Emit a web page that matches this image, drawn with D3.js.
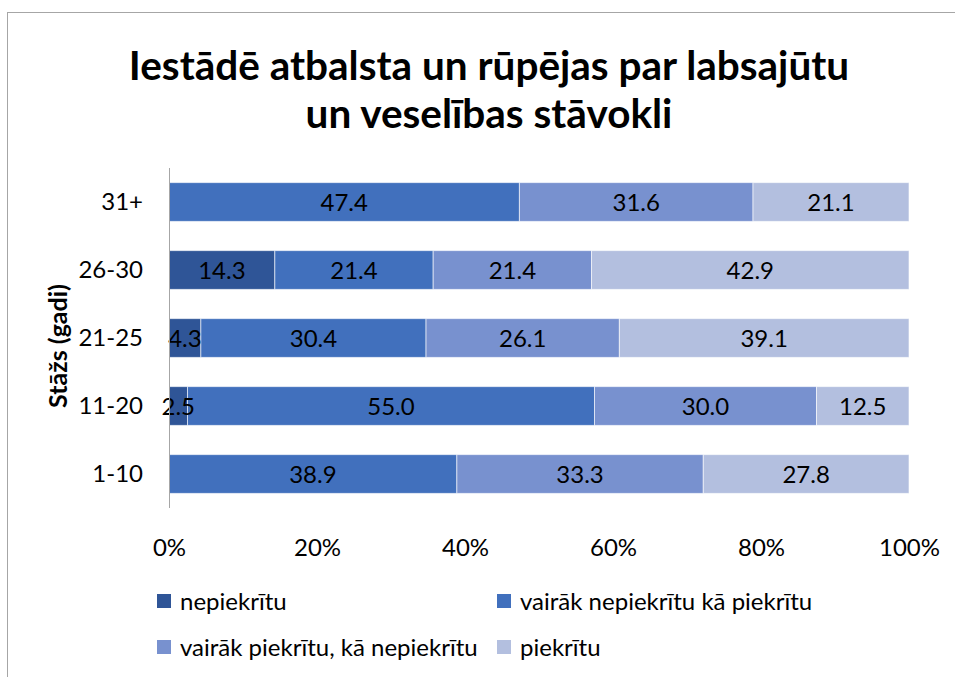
<!DOCTYPE html>
<html>
<head>
<meta charset="utf-8">
<script src="https://cdn.jsdelivr.net/npm/d3@7"></script>
<style>
  body { margin: 0; background: #fff; }
  svg { display: block; font-family: Lato, "Open Sans", sans-serif; }
</style>
</head>
<body>
<svg width="955" height="677"></svg>
<script>
var groups = ['31+', '26-30', '21-25', '11-20', '1-10'];
var seriesNames = ['nepiekrītu', 'vairāk nepiekrītu kā piekrītu', 'vairāk piekrītu, kā nepiekrītu', 'piekrītu'];
var nepiekritu = [0, 14.3, 4.3, 2.5, 0];
var vairakNepiekritu = [47.4, 21.4, 30.4, 55.0, 38.9];
var vairakPiekritu = [31.6, 21.4, 26.1, 30.0, 33.3];
var piekritu = [21.1, 42.9, 39.1, 12.5, 27.8];
var ticks = [0, 0.2, 0.4, 0.6, 0.8, 1];
var colors = ['#2f5597', '#4170bd', '#7891cf', '#b3bfdf'];

var svg = d3.select('svg');
var margin = { top: 168, right: 46, bottom: 169, left: 169 };
var width = +svg.attr('width') - margin.left - margin.right;
var height = +svg.attr('height') - margin.top - margin.bottom;
var fs = 24;

// frame (only left and top edge visible)
svg.append('rect')
	.attr('x', 7.5).attr('y', 12.5)
	.attr('width', 1000).attr('height', 1000)
	.attr('fill', 'none').attr('stroke', '#a6a6a6');

var title = svg.append('text')
	.attr('text-anchor', 'middle')
	.attr('font-weight', 'bold')
	.attr('font-size', 40.5)
	.attr('fill', '#000');
title.append('tspan').attr('x', 489).attr('y', 80).text('Iestādē atbalsta un rūpējas par labsajūtu');
title.append('tspan').attr('x', 489).attr('y', 128).text('un veselības stāvokli');

var rows = groups.map(function (g, i) {
	return { group: g, s0: nepiekritu[i], s1: vairakNepiekritu[i], s2: vairakPiekritu[i], s3: piekritu[i] };
});

var stack = d3.stack()
	.keys(['s0', 's1', 's2', 's3'])
	.offset(d3.stackOffsetExpand);
var layers = stack(rows);

var g = svg.append('g').attr('transform', `translate(${margin.left}, ${margin.top})`);

var x = d3.scaleLinear().domain([0, 1]).range([0, width]);
var y = d3.scaleBand().domain(groups).range([0, height]).paddingInner(0.43).paddingOuter(0.215);

g.selectAll('.layer')
	.data(layers)
	.enter().append('g')
	.attr('fill', function (d, i) { return colors[i]; })
	.selectAll('rect')
	.data(function (d) { return d; })
	.enter().append('rect')
	.attr('x', function (d) { return x(d[0]); })
	.attr('y', function (d) { return y(d.data.group); })
	.attr('width', function (d) { return x(d[1]) - x(d[0]); })
	.attr('height', y.bandwidth())
	.attr('stroke', 'rgba(255,255,255,0.6)')
	.attr('stroke-width', 1);

// labels go on top of all bars
g.selectAll('.labels')
	.data(layers)
	.enter().append('g')
	.selectAll('text')
	.data(function (d) {
		return d.filter(function (e) { return e[1] - e[0] > 0; })
			.map(function (e) { return { seg: e, value: e.data[d.key] }; });
	})
	.enter().append('text')
	.attr('x', function (d) { return (x(d.seg[0]) + x(d.seg[1])) / 2; })
	.attr('y', function (d) { return y(d.seg.data.group) + y.bandwidth() / 2; })
	.attr('dy', '0.36em')
	.attr('text-anchor', 'middle')
	.attr('font-size', fs)
	.attr('fill', '#000')
	.text(function (d) { return d.value.toFixed(1); });

var xAxis = d3.axisBottom(x).tickValues(ticks).tickFormat(d3.format('.0%')).tickSize(0).tickPadding(31);
var yAxis = d3.axisLeft(y).tickSize(0).tickPadding(26);

g.append('g')
	.attr('transform', `translate(0,${height})`)
	.call(customXAxis);

g.append('g')
	.call(customYAxis);

function customXAxis(g) {
	g.call(xAxis);
	g.select('.domain').remove();
	g.selectAll('.tick text').attr('font-size', fs).attr('fill', '#000').attr('font-family', 'Lato, sans-serif');
}

function customYAxis(g) {
	g.call(yAxis);
	g.select('.domain').attr('stroke', '#a6a6a6').attr('d', `M0.5,0V${height}`);
	g.selectAll('.tick text').attr('font-size', fs).attr('fill', '#000').attr('font-family', 'Lato, sans-serif');
}

svg.append('text')
	.attr('transform', 'translate(67,346) rotate(-90)')
	.attr('text-anchor', 'middle')
	.attr('font-weight', 'bold')
	.attr('font-size', 25)
	.text('Stāžs (gadi)');

// legend, two per row
var legend = svg.append('g').selectAll('g')
	.data(seriesNames)
	.enter().append('g')
	.attr('transform', function (d, i) {
		return `translate(${i % 2 === 0 ? 157 : 497}, ${i < 2 ? 601 : 647})`;
	});

legend.append('rect')
	.attr('x', 0).attr('y', -7)
	.attr('width', 14).attr('height', 14)
	.attr('fill', function (d, i) { return colors[i]; });

legend.append('text')
	.attr('x', 23)
	.attr('dy', '0.36em')
	.attr('font-size', fs)
	.text(function (d) { return d; });
</script>
</body>
</html>
